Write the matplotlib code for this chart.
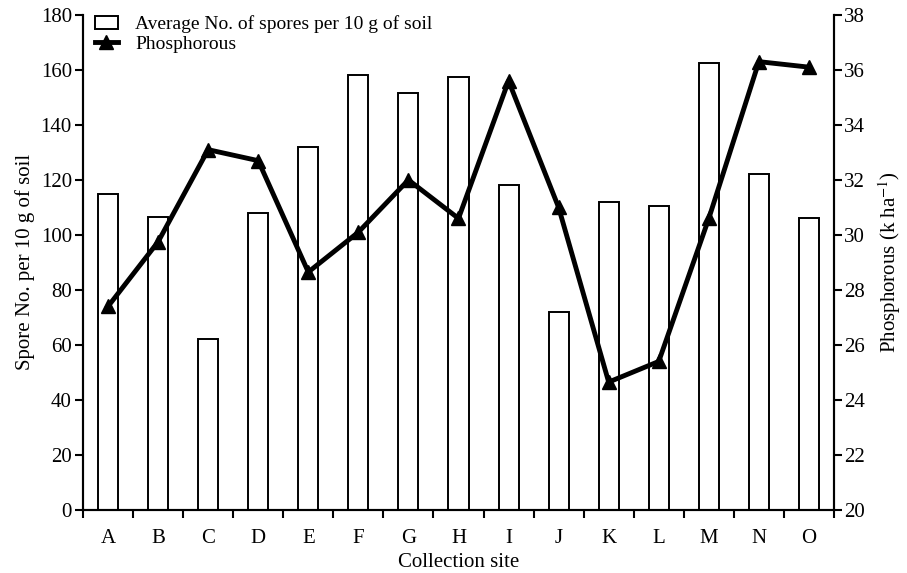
import matplotlib.pyplot as plt
import numpy as np

plt.rcParams['font.family'] = ['Liberation Serif', 'DejaVu Serif']
plt.rcParams['mathtext.fontset'] = 'stix'

sites = ['A', 'B', 'C', 'D', 'E', 'F', 'G', 'H', 'I', 'J', 'K', 'L', 'M', 'N', 'O']
spores = [115, 106.5, 62, 108, 132, 158, 151.5, 157.5, 118, 72, 112, 110.5, 162.5, 122, 106]
phosphorous = [27.4, 29.75, 33.1, 32.7, 28.65, 30.1, 32.0, 30.6, 35.6, 31.0, 24.65, 25.4, 30.6, 36.3, 36.1]

fig = plt.figure(figsize=(9.07, 5.73), dpi=100)
ax = fig.add_axes([0.0915, 0.110, 0.828, 0.864])
ax2 = ax.twinx()

x = np.arange(len(sites))
bars = ax.bar(x, spores, width=0.4, facecolor='white', edgecolor='black', linewidth=1.4,
              label='Average No. of spores per 10 g of soil')
line, = ax2.plot(x, phosphorous, color='black', linewidth=3.5, marker='^', markersize=10,
                 label='Phosphorous')

ax.set_xlim(-0.5, len(sites) - 0.5)
ax.set_ylim(0, 180)
ax2.set_ylim(20, 38)
ax.set_yticks(np.arange(0, 181, 20))
ax2.set_yticks(np.arange(20, 39, 2))

ax.set_xticks(x)
ax.set_xticklabels(sites)
ax.set_xticks(np.arange(-0.5, len(sites), 1), minor=True)
ax.tick_params(axis='x', which='major', length=0, pad=14, labelsize=15)
ax.tick_params(axis='x', which='minor', length=6, width=1.5, direction='out')
ax.tick_params(axis='y', length=6, width=1.5, direction='out', labelsize=15, pad=2)
ax2.tick_params(axis='y', length=6, width=1.5, direction='out', labelsize=15, pad=1)

for a in (ax, ax2):
    a.spines['top'].set_visible(False)
    for s in ('left', 'right', 'bottom'):
        a.spines[s].set_linewidth(1.5)

ax.set_xlabel('Collection site', fontsize=15, labelpad=3)
ax.set_ylabel('Spore No. per 10 g of soil', fontsize=15, labelpad=4)
ax2.set_ylabel('Phosphorous (k ha$^{-1}$)', fontsize=15, labelpad=8)

ax2.legend([bars, line], [bars.get_label(), line.get_label()], loc='upper left',
           bbox_to_anchor=(0.005, 1.015), frameon=False, fontsize=14,
           handlelength=1.2, handletextpad=0.9, labelspacing=0.1, borderaxespad=0)

fig.savefig('out.png', dpi=100)
